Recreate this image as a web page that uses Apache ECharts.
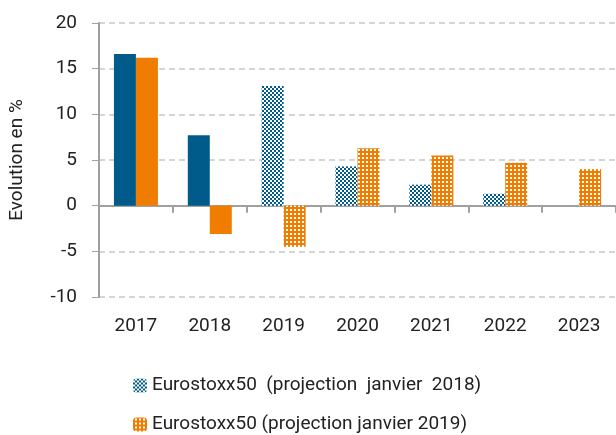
<!DOCTYPE html>
<html>
<head>
<meta charset="utf-8">
<script src="https://cdn.jsdelivr.net/npm/echarts@6/dist/echarts.min.js"></script>
<style>
  html, body { margin: 0; padding: 0; background: #fff; }
  #main { width: 616px; height: 435px; }
</style>
</head>
<body>
<div id="main"></div>
<script>
const years = ['2017', '2018', '2019', '2020', '2021', '2022', '2023'];
const proj2018 = [16.6, 7.7, 13.1, 4.3, 2.3, 1.3, null];
const proj2019 = [16.2, -3.1, -4.5, 6.3, 5.5, 4.7, 4.0];
const solidYears = 2; // 2017 and 2018 are actual values, drawn solid
const seriesNames = ['Eurostoxx50  (projection  janvier  2018)', 'Eurostoxx50 (projection janvier 2019)'];

const BLUE = '#005b8a';
const ORANGE = '#f07d00';

// small canvas tiles used as fill patterns
function checker() {
    let c = document.createElement('canvas');
    c.width = 4; c.height = 4;
    let ctx = c.getContext('2d');
    ctx.fillStyle = '#fff';
    ctx.fillRect(0, 0, 4, 4);
    ctx.fillStyle = BLUE;
    ctx.fillRect(0, 0, 2, 2);
    ctx.fillRect(2, 2, 2, 2);
    return c;
}
function grid() {
    let c = document.createElement('canvas');
    c.width = 4; c.height = 4;
    let ctx = c.getContext('2d');
    ctx.fillStyle = ORANGE;
    ctx.fillRect(0, 0, 4, 4);
    ctx.fillStyle = '#fff';
    ctx.fillRect(2, 1, 2, 2);
    return c;
}
const bluePattern = { image: checker(), repeat: 'repeat' };
const orangePattern = { image: grid(), repeat: 'repeat' };

function toData(values, solid) {
    return values.map(function (v, i) {
        if (i < solidYears) {
            return { value: v, itemStyle: { color: solid } };
        }
        return v;
    });
}

const font = 'Roboto';
const legendText = { fontSize: 19, color: '#222', fontFamily: font };
let chart = echarts.init(document.getElementById('main'));
chart.setOption({
    animation: false,
    textStyle: { fontFamily: font },
    grid: { left: 99, right: 0, top: 23, bottom: 138, containLabel: false },
    legend: [
        {
            left: 128, top: 371,
            itemWidth: 14, itemHeight: 14,
            textStyle: legendText,
            data: [seriesNames[0]]
        },
        {
            left: 128, top: 410,
            itemWidth: 14, itemHeight: 14,
            textStyle: legendText,
            data: [seriesNames[1]]
        }
    ],
    xAxis: [
        {
            type: 'category',
            data: years,
            position: 'top',
            axisLine: { onZero: true, lineStyle: { color: '#a0a0a0', width: 2 } },
            axisTick: { show: true, inside: true, length: 7, lineStyle: { color: '#a0a0a0', width: 2 } },
            axisLabel: { show: false },
            splitLine: { show: false }
        },
        {
            type: 'category',
            data: years,
            position: 'bottom',
            axisLine: { show: false, onZero: false },
            axisTick: { show: false },
            axisLabel: { fontSize: 19, color: '#222', margin: 20 }
        }
    ],
    yAxis: {
        type: 'value',
        min: -10,
        max: 20,
        interval: 5,
        name: 'Evolution en %',
        nameLocation: 'middle',
        nameGap: 72,
        nameTextStyle: { fontSize: 19, color: '#222' },
        axisLine: { show: true, lineStyle: { color: '#a0a0a0', width: 2 } },
        axisTick: { show: true, length: 7, lineStyle: { color: '#a0a0a0' } },
        axisLabel: { fontSize: 19, color: '#222', margin: 22 },
        splitLine: { lineStyle: { color: '#c8c8c8', type: [6, 4], width: 1.5 } }
    },
    series: [
        {
            name: seriesNames[0],
            type: 'bar',
            xAxisIndex: 0,
            barWidth: 22,
            barGap: '0%',
            itemStyle: { color: bluePattern },
            data: toData(proj2018, BLUE)
        },
        {
            name: seriesNames[1],
            type: 'bar',
            xAxisIndex: 0,
            barWidth: 22,
            barGap: '0%',
            itemStyle: { color: orangePattern },
            data: toData(proj2019, ORANGE)
        }
    ]
});
</script>
</body>
</html>
